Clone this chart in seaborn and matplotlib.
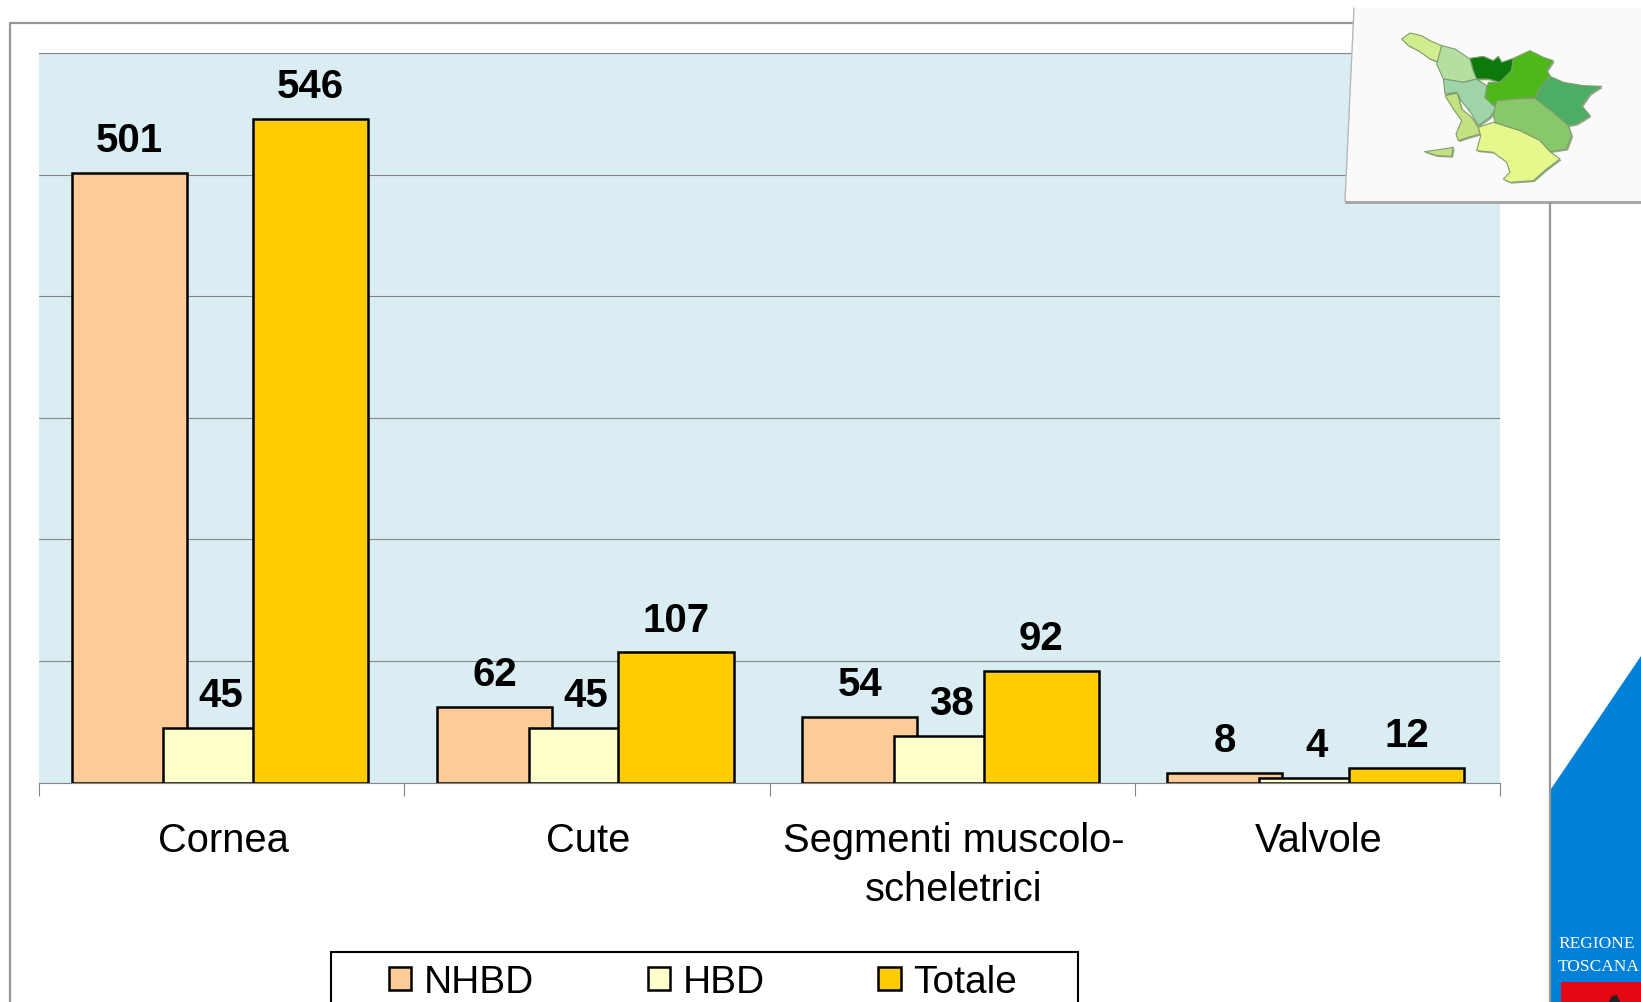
# Donations by tissue type, bar chart with the Tuscany slide decoration
import pandas as pd
import seaborn as sns
import matplotlib.pyplot as plt
import matplotlib.patheffects as pe
import numpy as np
from matplotlib.patches import Polygon, Rectangle

categories = ['Cornea', 'Cute', 'Segmenti muscolo-\nscheletrici', 'Valvole']
series_names = ['NHBD', 'HBD', 'Totale']
nhbd = [501, 62, 54, 8]
hbd = [45, 45, 38, 4]
totale = [546, 107, 92, 12]
series_colors = ['#FFCC99', '#FFFFCC', '#FFCC00']

W, H = 1641, 1003

# map of the provinces, in coordinates of the little panel
map_shapes = [
    ('#D0EE90', [(215,120),(240,102),(275,110),(300,125),(335,140),(325,190),(300,180),(265,155),(235,140)]),
    ('#B5DFA0', [(335,140),(375,150),(420,180),(430,215),(440,240),(400,250),(340,240),(320,195)]),
    ('#9FD4A8', [(340,240),(400,250),(440,240),(470,260),(465,295),(500,325),(480,355),(445,380),(425,345),(390,300),(380,280),(345,285)]),
    ('#C4E080', [(345,290),(382,282),(395,330),(425,355),(445,385),(450,405),(415,415),(385,425),(378,405),(395,365),(370,330)]),
    ('#0B7A0B', [(420,178),(460,172),(490,185),(505,172),(515,190),(550,178),(545,215),(510,250),(475,240),(440,240),(430,215)]),
    ('#4DB81A', [(550,178),(600,155),(640,175),(670,185),(650,215),(660,230),(630,265),(615,295),(560,300),(510,305),(490,320),(465,295),(475,250),(510,250),(545,215)]),
    ('#4CAD65', [(660,232),(700,250),(760,260),(815,262),(780,285),(755,320),(780,350),(740,375),(715,380),(670,340),(615,300),(630,265)]),
    ('#88C86A', [(500,305),(560,300),(615,298),(670,340),(715,380),(725,410),(710,450),(660,458),(630,425),(570,395),(495,370),(490,350)]),
    ('#E6F78C', [(445,385),(490,370),(570,395),(630,425),(660,458),(690,480),(650,510),(610,545),(540,550),(520,540),(540,520),(530,490),(490,460),(440,455),(452,410)]),
    ('#C4E080', [(283,458),(340,450),(370,445),(365,472),(320,470)]),
]


def draw_chart(fig):
    ax = fig.add_axes([39 / W, 1 - 783.5 / H, (1500 - 39) / W, (783.5 - 54) / H])
    ax.set_facecolor('#DAEDF3')
    positions = np.arange(len(categories))
    offsets = [-0.253, -0.002, 0.244]
    for values, color, offset in zip([nhbd, hbd, totale], series_colors, offsets):
        df = pd.DataFrame({'pos': positions + offset, 'value': values})
        sns.barplot(data=df, x='pos', y='value', color=color, saturation=1, native_scale=True,
                    width=0.315, edgecolor='black', linewidth=1.8, errorbar=None, ax=ax)
        ax.bar_label(ax.containers[-1], labels=[str(v) for v in values], padding=10,
                     fontsize=29, fontweight='bold', color='black')

    ax.set_xlim(-0.5, len(categories) - 0.5)
    ax.set_ylim(0, 600)
    ax.set_xlabel('')
    ax.set_ylabel('')
    ax.set_yticks(np.arange(0, 601, 100))
    ax.set_yticklabels([])
    ax.tick_params(axis='y', length=0)
    ax.grid(axis='y', color='#868686', linewidth=0.8)
    ax.grid(axis='x', visible=False)
    ax.set_axisbelow(True)

    ax.set_xticks(np.arange(-0.5, len(categories), 1))
    ax.set_xticklabels([])
    ax.set_xticks(positions + 0.004, labels=categories, minor=True)
    ax.tick_params(axis='x', which='major', bottom=True, length=9, width=0.8, color='#868686')
    ax.tick_params(axis='x', which='minor', bottom=False, length=0, pad=28, labelsize=28.7,
                   labelcolor='black')
    for label in ax.get_xticklabels(minor=True):
        label.set_linespacing(1.34)

    for side in ['left', 'right']:
        ax.spines[side].set_visible(False)
    ax.spines['top'].set_color('#868686')
    ax.spines['top'].set_linewidth(0.8)
    ax.spines['bottom'].set_color('#868686')
    ax.spines['bottom'].set_linewidth(0.8)
    return ax


def draw_decoration(fig):
    # overlay in pixel coordinates for everything around the chart
    deco = fig.add_axes([0, 0, 1, 1])
    deco.set_xlim(0, W)
    deco.set_ylim(H, 0)
    deco.axis('off')
    deco.patch.set_alpha(0)

    # slide frame
    deco.plot([10, 10, 1353], [H, 24, 24], color='#969696', linewidth=1.6)
    deco.plot([1550, 1550], [204, H], color='#969696', linewidth=1.6)

    # blue band and logo
    deco.add_patch(Polygon([(1551, 790), (1641, 657), (1641, H), (1551, H)], color='#0080D8', lw=0))
    deco.text(1558, 944, 'REGIONE', color='white', fontsize=12.5, family='Liberation Serif', va='center')
    deco.text(1558, 967, 'TOSCANA', color='white', fontsize=12.5, family='Liberation Serif', va='center')
    deco.add_patch(Rectangle((1561, 983), 90, 30, color='#E30613', lw=0))
    deco.add_patch(Polygon([(1609, 1003), (1612, 997), (1617, 996), (1620, 1003)], color='#222222', lw=0))

    # panel with the map
    deco.add_patch(Polygon([(1345, 201), (1345, 205), (1641, 205), (1641, 201)], color='#A8A8A8', lw=0))
    deco.add_patch(Polygon([(1354, 9), (1641, 9), (1641, 202), (1345, 202)],
                           facecolor='#FAFAFA', edgecolor='none'))
    deco.plot([1354, 1345], [9, 202], color='#B8B8B8', linewidth=1)
    for color, shape in map_shapes:
        pts = [(1330 + x / 3, y / 3) for x, y in shape]
        poly = Polygon(pts, facecolor=color, edgecolor='#7E9E6E', linewidth=0.8)
        poly.set_path_effects([pe.withSimplePatchShadow(offset=(1, -1), shadow_rgbFace='#3A5A2A', alpha=0.5)])
        deco.add_patch(poly)

    # legend box, cut by the bottom of the slide
    deco.add_patch(Rectangle((331, 953), 747, 80, facecolor='white', edgecolor='black', linewidth=1.5))


def main():
    sns.set_style('white')
    plt.rcParams['font.family'] = ['Liberation Sans', 'DejaVu Sans']
    plt.rcParams['text.color'] = 'black'

    fig = plt.figure(figsize=(W / 100, H / 100), dpi=100, facecolor='white')
    ax = draw_chart(fig)
    draw_decoration(fig)

    fig.legend(handles=list(ax.containers), labels=series_names, loc='upper left',
               bbox_to_anchor=(389 / W, 1 - 965 / H), frameon=False, ncol=3, fontsize=28,
               borderpad=0, borderaxespad=0, handlelength=0.57, handleheight=0.54,
               handletextpad=0.33, columnspacing=2.92)
    fig.savefig('out.png', dpi=100)


if __name__ == "__main__":
    main()
